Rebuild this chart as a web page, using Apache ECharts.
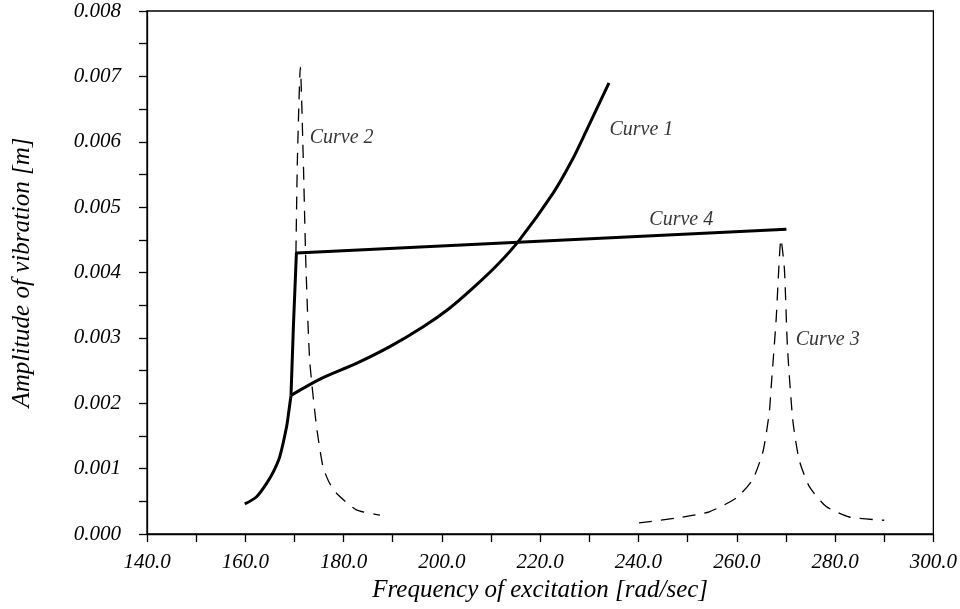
<!DOCTYPE html>
<html>
<head>
<meta charset="utf-8">
<script src="https://cdn.jsdelivr.net/npm/echarts@6/dist/echarts.min.js"></script>
<style>
  html, body { margin: 0; padding: 0; background: #fff; }
  #main { width: 960px; height: 609px; }
</style>
</head>
<body>
<div id="main"></div>
<script>
// curve 1 : solid, from 160 up to the kink (lower part) and then on to the upper right
var curve1LowX = [159.9, 162.3, 164.3, 165.7, 167.0, 168.4, 168.9, 169.3];
var curve1LowY = [0.00046, 0.00057, 0.00077, 0.00095, 0.00118, 0.00164, 0.00190, 0.00212];
var curve1UpX = [169.3, 175.5, 182.6, 189.5, 196.2, 201.5, 206.3, 211.2, 215.8, 222.6, 226.5, 229.4, 234.0];
var curve1UpY = [0.00212, 0.00238, 0.00261, 0.00287, 0.00317, 0.00345, 0.00376, 0.00411, 0.00450, 0.00521, 0.00572, 0.00617, 0.00690];
// curve 4 : solid jump then nearly flat line
var curve4X = [169.3, 169.8, 170.4, 270.1];
var curve4Y = [0.00212, 0.00320, 0.00430, 0.00466];
// curve 2 : dashed peak near 171
var curve2X = [170.3, 170.6, 171.2, 171.8, 172.3, 173.1, 174.5, 175.8, 177.0, 178.6, 182.6, 187.4];
var curve2Y = [0.00429, 0.00572, 0.00714, 0.00572, 0.00419, 0.00266, 0.00164, 0.00103, 0.00080, 0.00062, 0.00037, 0.00029];
// curve 3 : dashed peak near 269
var curve3X = [240.1, 248.3, 254.4, 259.9, 263.2, 265.3, 266.6, 267.0, 268.0, 269.0, 269.7, 270.3, 271.4, 272.7, 274.8, 278.2, 282.9, 290.0];
var curve3Y = [0.00017, 0.00025, 0.00034, 0.00055, 0.00083, 0.00125, 0.00185, 0.00225, 0.00327, 0.00451, 0.00404, 0.00287, 0.00174, 0.00113, 0.00072, 0.00042, 0.00026, 0.00021];

// curve labels (anchor = left edge of text)
var labelText = ['Curve 1', 'Curve 2', 'Curve 3', 'Curve 4'];
var labelX = [234.1, 173.1, 272.0, 242.2];
var labelY = [0.00618, 0.00606, 0.00297, 0.00480];

var xMin = 140, xMax = 300, xStep = 10;
var yMin = 0, yMax = 0.008, yStep = 0.0005;

var FONT = '"Liberation Serif", "Times New Roman", serif';

function pairs(xs, ys) {
    var out = [];
    for (var i = 0; i < xs.length; i++) out.push([xs[i], ys[i]]);
    return out;
}

var chart = echarts.init(document.getElementById('main'));

var solidStyle = { color: '#000', width: 3 };
var dashStyle = { color: '#000', width: 1.3, type: [13, 9] };

chart.setOption({
    animation: false,
    backgroundColor: '#fff',
    grid: {
        left: 147, right: 26, top: 11, bottom: 75,
        show: true, borderColor: '#000', borderWidth: 1.3, backgroundColor: 'transparent'
    },
    xAxis: {
        type: 'value', min: xMin, max: xMax, interval: xStep,
        name: 'Frequency of excitation [rad/sec]',
        nameLocation: 'middle', nameGap: 43,
        nameTextStyle: { fontFamily: FONT, fontStyle: 'italic', fontSize: 25, color: '#000' },
        axisLine: { lineStyle: { color: '#000', width: 1.3 } },
        axisTick: { inside: false, length: 8, lineStyle: { color: '#000', width: 1.3 } },
        axisLabel: {
            margin: 18, fontFamily: FONT, fontStyle: 'italic', fontSize: 21, color: '#000',
            formatter: function (v) { return Math.round(v) % 20 === 0 ? v.toFixed(1) : ''; }
        },
        splitLine: { show: false }
    },
    yAxis: {
        type: 'value', min: yMin, max: yMax, interval: yStep,
        name: 'Amplitude of vibration [m]',
        nameLocation: 'middle', nameGap: 112,
        nameTextStyle: { fontFamily: FONT, fontStyle: 'italic', fontSize: 25, color: '#000' },
        axisLine: { lineStyle: { color: '#000', width: 1.3 } },
        axisTick: { inside: false, length: 8, lineStyle: { color: '#000', width: 1.3 } },
        axisLabel: {
            margin: 26, fontFamily: FONT, fontStyle: 'italic', fontSize: 21, color: '#000',
            formatter: function (v) { return Math.round(v * 10000) % 10 === 0 ? v.toFixed(3) : ''; }
        },
        splitLine: { show: false }
    },
    series: [
        { name: 'Curve 1', type: 'line', data: pairs(curve1LowX, curve1LowY), showSymbol: false, smooth: 0.3, lineStyle: solidStyle, z: 3 },
        { name: 'Curve 1', type: 'line', data: pairs(curve1UpX, curve1UpY), showSymbol: false, smooth: 0.3, lineStyle: solidStyle, z: 3 },
        { name: 'Curve 4', type: 'line', data: pairs(curve4X, curve4Y), showSymbol: false, lineStyle: solidStyle, z: 3 },
        { name: 'Curve 2', type: 'line', data: pairs(curve2X, curve2Y), showSymbol: false, smooth: 0.2, lineStyle: dashStyle, z: 2 },
        { name: 'Curve 3', type: 'line', data: pairs(curve3X, curve3Y), showSymbol: false, smooth: 0.2, lineStyle: dashStyle, z: 2 },
        {
            type: 'scatter', symbolSize: 0, silent: true, z: 4,
            data: pairs(labelX, labelY).map(function (p, i) { return { value: p, name: labelText[i] }; }),
            label: {
                show: true, position: 'right', distance: 0,
                formatter: function (p) { return p.name; },
                fontFamily: FONT, fontStyle: 'italic', fontSize: 20, color: '#000'
            }
        }
    ]
});
</script>
</body>
</html>
